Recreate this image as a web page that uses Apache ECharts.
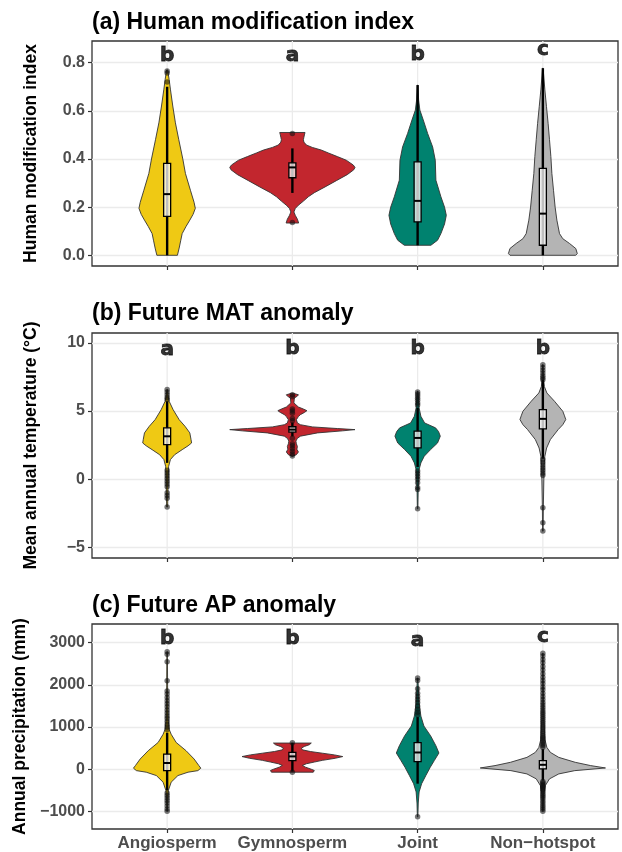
<!DOCTYPE html>
<html>
<head>
<meta charset="utf-8">
<title>Hotspot violins</title>
<script src="https://cdn.jsdelivr.net/npm/echarts@6.0.0/dist/echarts.min.js"></script>
<style>
html, body { margin: 0; padding: 0; background: #fff; }
#chart { width: 622px; height: 852px; }
</style>
</head>
<body>
<div id="chart"></div>
<script>
const groups = ['Angiosperm', 'Gymnosperm', 'Joint', 'Non−hotspot'];
const groupColors = ['#EFC914', '#C2262E', '#00826F', '#B4B4B4'];
const groupTicks = [1, 2, 3, 4];

// (a) human modification index : violin profiles [value, half width]
const hmiTicks = [0, 0.2, 0.4, 0.6, 0.8];
const hmiViolin = [
  [[0, 0.082], [0.03, 0.096], [0.06, 0.108], [0.09, 0.12], [0.12, 0.151], [0.146, 0.181], [0.17, 0.207], [0.195, 0.225], [0.22, 0.215], [0.27, 0.186], [0.34, 0.146], [0.40, 0.125], [0.48, 0.093], [0.55, 0.066], [0.62, 0.045], [0.69, 0.026], [0.73, 0.016], [0.77, 0.004]],
  [[0.134, 0.05], [0.15, 0.04], [0.165, 0.024], [0.18, 0.012], [0.195, 0.024], [0.208, 0.048], [0.225, 0.088], [0.243, 0.127], [0.26, 0.175], [0.284, 0.261], [0.31, 0.351], [0.335, 0.438], [0.355, 0.49], [0.365, 0.5], [0.375, 0.486], [0.395, 0.43], [0.41, 0.359], [0.425, 0.287], [0.437, 0.231], [0.448, 0.159], [0.458, 0.112], [0.47, 0.092], [0.48, 0.088], [0.49, 0.092], [0.5, 0.096], [0.51, 0.101]],
  [[0.0416, 0.106], [0.0625, 0.159], [0.09, 0.186], [0.13, 0.215], [0.166, 0.229], [0.2, 0.215], [0.243, 0.186], [0.312, 0.146], [0.395, 0.141], [0.45, 0.12], [0.506, 0.08], [0.562, 0.045], [0.603, 0.018], [0.645, 0.008], [0.707, 0.002]],
  [[0, 0.262], [0.007, 0.275], [0.028, 0.263], [0.049, 0.213], [0.069, 0.159], [0.09, 0.133], [0.146, 0.112], [0.2, 0.098], [0.27, 0.085], [0.34, 0.072], [0.41, 0.064], [0.48, 0.053], [0.548, 0.042], [0.617, 0.029], [0.687, 0.016], [0.777, 0.002]]
];
// [lower whisker, q1, median, q3, upper whisker]
const hmiBox = [
  [0, 0.162, 0.254, 0.382, 0.70],
  [0.259, 0.322, 0.365, 0.384, 0.444],
  [0.0416, 0.139, 0.226, 0.388, 0.707],
  [0, 0.0416, 0.173, 0.361, 0.777]
];
const hmiOutliers = [[0.72, 0.757, 0.765], [0.506, 0.136], [], []];
const hmiLetters = ['b', 'a', 'b', 'c'];
const hmiLetterY = [0.828, 0.827, 0.832, 0.853];

// (b) future MAT anomaly
const matTicks = [-5, 0, 5, 10];
const matViolin = [
  [[-2.03, 0.004], [-1, 0.006], [0, 0.008], [0.95, 0.012], [1.44, 0.026], [1.8, 0.06], [2.17, 0.12], [2.45, 0.167], [2.66, 0.195], [2.9, 0.191], [3.4, 0.181], [3.88, 0.143], [4.37, 0.096], [5.1, 0.048], [5.72, 0.016], [6.09, 0.008], [6.58, 0.002]],
  [[1.69, 0.004], [1.8, 0.032], [2.0, 0.048], [2.2, 0.036], [2.4, 0.04], [2.6, 0.032], [2.8, 0.028], [3.0, 0.04], [3.16, 0.064], [3.4, 0.2], [3.55, 0.4], [3.64, 0.5], [3.72, 0.359], [3.84, 0.159], [4.0, 0.064], [4.13, 0.04], [4.37, 0.032], [4.6, 0.048], [4.74, 0.064], [4.9, 0.096], [5.03, 0.116], [5.15, 0.088], [5.3, 0.048], [5.6, 0.012], [5.96, 0.016], [6.1, 0.04], [6.2, 0.048], [6.3, 0.008]],
  [[-2.17, 0.002], [-1, 0.004], [0, 0.008], [0.71, 0.012], [1.2, 0.026], [1.69, 0.053], [2.18, 0.104], [2.66, 0.159], [3.16, 0.181], [3.5, 0.167], [3.77, 0.143], [4.13, 0.056], [4.62, 0.026], [5.23, 0.012], [5.8, 0.008], [6.45, 0.002]],
  [[-3.81, 0.002], [-2, 0.004], [0, 0.008], [1.0, 0.01], [1.69, 0.016], [2.29, 0.03], [2.91, 0.06], [3.64, 0.122], [4.0, 0.159], [4.38, 0.183], [4.7, 0.171], [4.99, 0.159], [5.72, 0.093], [6.33, 0.032], [6.8, 0.012], [7.3, 0.006], [8.41, 0.002]]
];
const matBox = [
  [1.2, 2.54, 3.15, 3.77, 5.72],
  [3.14, 3.45, 3.64, 3.85, 4.16],
  [0.9, 2.3, 3.03, 3.53, 5.24],
  [1.5, 3.69, 4.43, 5.11, 7.3]
];
const matOutliers = [
  [6.58, 6.4, 6.2, 6.0, 5.85, 0.65, 0.45, 0.25, 0.05, -0.15, -0.35, -0.55, -1.0, -1.2, -1.4, -2.03],
  [6.2, 6.05, 5.15, 5.0, 4.85, 4.45, 4.3, 3.0, 2.6, 2.45, 2.25, 2.05, 1.85, 1.7],
  [6.4, 6.25, 6.1, 5.95, 5.8, 5.6, 5.45, 0.6, 0.4, 0.2, 0.0, -0.25, -0.6, -0.75, -2.17],
  [8.4, 8.2, 8.0, 7.8, 7.6, 7.45, 7.3, 1.45, 1.25, 1.05, 0.85, 0.65, 0.45, 0.3, -2.1, -3.2, -3.8]
];
const matLetters = ['a', 'b', 'b', 'b'];
const matLetterY = [9.52, 9.55, 9.6, 9.6];

// (c) future AP anomaly
const apTicks = [-1000, 0, 1000, 2000, 3000];
const apViolin = [
  [[-994, 0.002], [-700, 0.005], [-502, 0.01], [-307, 0.032], [-150, 0.086], [-70, 0.167], [-33, 0.245], [25, 0.269], [88, 0.253], [243, 0.215], [439, 0.151], [634, 0.072], [829, 0.032], [946, 0.016], [1180, 0.008], [1800, 0.004], [2782, 0.002]],
  [[-70, 0.167], [-30, 0.175], [0, 0.151], [50, 0.104], [90, 0.08], [130, 0.112], [170, 0.175], [210, 0.239], [260, 0.343], [300, 0.402], [340, 0.335], [380, 0.239], [420, 0.143], [460, 0.08], [500, 0.072], [540, 0.096], [580, 0.135], [620, 0.151]],
  [[-1126, 0.002], [-800, 0.005], [-537, 0.012], [-342, 0.032], [-147, 0.066], [48, 0.101], [204, 0.133], [384, 0.17], [556, 0.146], [790, 0.104], [1024, 0.05], [1259, 0.026], [1572, 0.012], [1900, 0.006], [2158, 0.002]],
  [[-994, 0.002], [-600, 0.006], [-385, 0.02], [-228, 0.053], [-111, 0.127], [-33, 0.255], [30, 0.5], [86, 0.382], [164, 0.259], [281, 0.127], [399, 0.06], [516, 0.032], [711, 0.016], [1180, 0.008], [2000, 0.004], [2745, 0.002]]
];
const apBox = [
  [-502, -31, 148, 359, 866],
  [-55, 203, 304, 398, 625],
  [-342, 178, 397, 631, 1235],
  [-267, 7, 105, 203, 477]
];
const apOutliers = [
  [2782, 2720, 2547, 2095, 1850, 1780, 1700, 1620, 1550, 1480, 1400, 1330, 1260, 1200, 1130, 1060, 1000, 940, -560, -620, -680, -740, -800, -870, -940, -994],
  [630, -70],
  [2158, 2100, 1908, 1800, 1720, 1650, 1580, 1500, 1420, 1350, 1290, -1126],
  [520, 560, 600, 640, 680, 720, 760, 800, 850, 900, 950, 1000, 1050, 1100, 1150, 1200, 1250, 1300, 1350, 1400, 1460, 1520, 1580, 1650, 1720, 1800, 1880, 1950, 2030, 2100, 2180, 2260, 2350, 2430, 2520, 2600, 2680, 2745,
   -290, -320, -350, -380, -410, -440, -470, -500, -540, -580, -620, -660, -700, -750, -800, -850, -900, -950, -994]
];
const apLetters = ['b', 'b', 'a', 'c'];
const apLetterY = [3085, 3085, 3047, 3141];

const fontFamily = "'Liberation Sans', Arial, sans-serif";
const boxHalf = 0.028;

const panels = [
  { title: '(a) Human modification index', name: 'Human modification index', top: 41, height: 225, range: [-0.0445, 0.89],
    ticks: hmiTicks, violin: hmiViolin, box: hmiBox, outliers: hmiOutliers, letters: hmiLetters, letterY: hmiLetterY,
    fmt: (v) => v.toFixed(1) },
  { title: '(b) Future MAT anomaly', name: 'Mean annual temperature (°C)', top: 333, height: 225, range: [-5.78, 10.73],
    ticks: matTicks, violin: matViolin, box: matBox, outliers: matOutliers, letters: matLetters, letterY: matLetterY,
    fmt: (v) => String(v).replace('-', '−') },
  { title: '(c) Future AP anomaly', name: 'Annual precipitation (mm)', top: 624, height: 207, range: [-1415, 3439],
    ticks: apTicks, violin: apViolin, box: apBox, outliers: apOutliers, letters: apLetters, letterY: apLetterY,
    fmt: (v) => String(v).replace('-', '−') }
];

// vertical grid line at each group, spanning the y axis range
const gridLineItem = (range) => (params, api) => {
  const x = api.value(0);
  const a = api.coord([x, range[0]]);
  const b = api.coord([x, range[1]]);
  return {
    type: 'line',
    shape: { x1: a[0], y1: a[1], x2: b[0], y2: b[1] },
    style: { stroke: '#EBEBEB', lineWidth: 1.3 },
  };
};

const violinItem = (profiles) => (params, api) => {
  const x = api.value(0);
  const prof = profiles[x - 1];
  const right = prof.map((p) => api.coord([x + p[1], p[0]]));
  const left = prof.slice().reverse().map((p) => api.coord([x - p[1], p[0]]));
  return {
    type: 'polygon',
    shape: { points: right.concat(left) },
    style: { fill: groupColors[x - 1], stroke: '#333333', lineWidth: 0.9 },
  };
};

const boxItem = (boxes) => (params, api) => {
  const x = api.value(0);
  const b = boxes[x - 1];
  const lo = api.coord([x, b[0]]);
  const hi = api.coord([x, b[4]]);
  const q1 = api.coord([x - boxHalf, b[1]]);
  const q3 = api.coord([x + boxHalf, b[3]]);
  const mL = api.coord([x - boxHalf, b[2]]);
  const mR = api.coord([x + boxHalf, b[2]]);
  return {
    type: 'group',
    children: [
      { type: 'line', shape: { x1: lo[0], y1: lo[1], x2: hi[0], y2: hi[1] }, style: { stroke: '#000', lineWidth: 2.4 } },
      { type: 'rect', shape: { x: q1[0], y: q3[1], width: q3[0] - q1[0], height: q1[1] - q3[1] },
        style: { fill: 'rgba(255,255,255,0.75)', stroke: '#000', lineWidth: 1.3 } },
      { type: 'line', shape: { x1: mL[0], y1: mL[1], x2: mR[0], y2: mR[1] }, style: { stroke: '#000', lineWidth: 2 } },
    ],
  };
};

const option = {
  animation: false,
  backgroundColor: '#fff',
  textStyle: { fontFamily },
  title: panels.map((p, i) => ({
    text: p.title,
    left: 92,
    top: 11 + i * 291.6,
    padding: 0,
    textStyle: { fontFamily, fontSize: 23, fontWeight: 'bold', color: '#000' },
  })),
  grid: panels.map((p) => ({
    left: 92, right: 4, top: p.top, height: p.height,
    show: true, borderColor: '#333333', borderWidth: 1.3, backgroundColor: 'transparent',
  })),
  xAxis: panels.map((p, i) => ({
    gridIndex: i,
    type: 'value',
    min: 0.4,
    max: 4.6,
    axisLine: { show: false, onZero: false },
    axisTick: { show: true, length: 4, customValues: groupTicks, lineStyle: { color: '#333333', width: 1.2 } },
    axisLabel: {
      show: i === 2,
      customValues: groupTicks,
      margin: 6,
      color: '#4D4D4D', fontSize: 17, fontWeight: 'bold', fontFamily,
      formatter: (v) => groups[Math.round(v) - 1],
    },
    splitLine: { show: false },
  })),
  yAxis: panels.map((p, i) => ({
    gridIndex: i,
    type: 'value',
    min: p.range[0],
    max: p.range[1],
    axisLine: { show: false, onZero: false },
    axisTick: { show: true, length: 4, customValues: p.ticks, lineStyle: { color: '#333333', width: 1.2 } },
    axisLabel: {
      customValues: p.ticks,
      margin: 7,
      color: '#4D4D4D', fontSize: 16, fontWeight: 'bold', fontFamily,
      formatter: p.fmt,
    },
    splitLine: { show: true, lineStyle: { color: '#EBEBEB', width: 1.3 } },
    name: p.name,
    nameLocation: 'middle',
    nameGap: 52,
    nameTextStyle: { fontFamily, fontSize: 17.5, fontWeight: 'bold', color: '#000' },
  })),
  series: [],
};

panels.forEach((p, i) => {
  option.series.push({
    type: 'custom', xAxisIndex: i, yAxisIndex: i, z: 1, silent: true,
    renderItem: gridLineItem(p.range),
    data: groupTicks.map((g) => [g]),
  });
  option.series.push({
    type: 'custom', xAxisIndex: i, yAxisIndex: i, z: 2,
    renderItem: violinItem(p.violin),
    data: groupTicks.map((g) => [g]),
  });
  option.series.push({
    type: 'custom', xAxisIndex: i, yAxisIndex: i, z: 3,
    renderItem: boxItem(p.box),
    data: groupTicks.map((g) => [g]),
  });
  const pts = [];
  p.outliers.forEach((list, g) => list.forEach((v) => pts.push([g + 1, v])));
  option.series.push({
    type: 'scatter', xAxisIndex: i, yAxisIndex: i, z: 4,
    symbol: 'circle', symbolSize: 5.5,
    itemStyle: { color: 'rgba(15,15,15,0.7)' },
    data: pts,
  });
  option.series.push({
    type: 'scatter', xAxisIndex: i, yAxisIndex: i, z: 5,
    symbolSize: 0,
    label: {
      show: true, position: 'inside',
      formatter: (d) => d.data.letter,
      fontFamily: "'DejaVu Sans', sans-serif", fontSize: 20, fontWeight: 'bold', color: '#000',
      textBorderColor: '#000', textBorderWidth: 0.8,
    },
    data: p.letters.map((l, g) => ({ value: [g + 1, p.letterY[g]], letter: l })),
  });
});

const chart = echarts.init(document.getElementById('chart'));
chart.setOption(option);
window.addEventListener('resize', () => chart.resize());
</script>
</body>
</html>
